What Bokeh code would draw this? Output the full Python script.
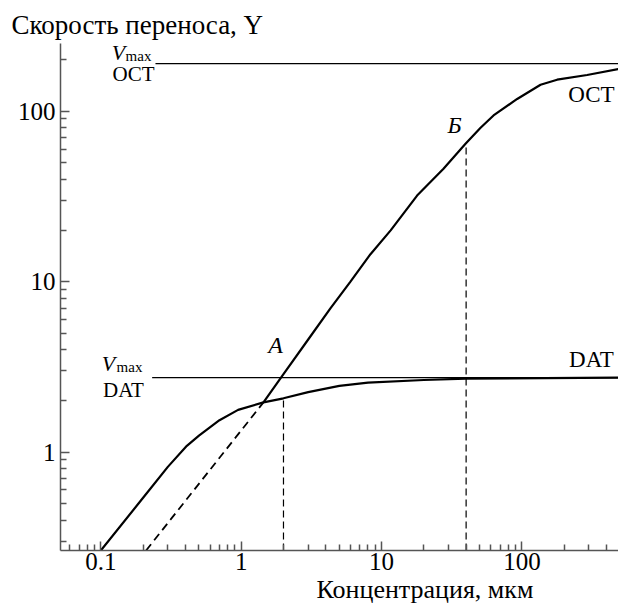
from bokeh.plotting import figure
from bokeh.models import Range1d, FixedTicker, Label, Title
from bokeh.embed import file_html
from bokeh.resources import INLINE

# ---- data ----
dat_x = [0.1, 0.2, 0.3, 0.41, 0.5, 0.7, 0.95, 1.44, 2.0, 3.0, 5.0, 8.0, 20, 40, 487]
dat_y = [0.265, 0.54, 0.82, 1.09, 1.25, 1.54, 1.77, 1.96, 2.07, 2.25, 2.45, 2.56, 2.65, 2.70, 2.74]

oct_x = [1.44, 2.0, 3.0, 4.33, 6.0, 8.33, 11.6, 17.9, 27.6, 39.6, 50.7, 62.7, 92.4, 135.6, 178, 291, 487]
oct_y = [1.96, 2.87, 4.58, 7.0, 10.0, 14.5, 20.0, 32.0, 46.0, 64.4, 80, 94.4, 118, 143, 153, 163, 177]

oct_ext_x = [0.21, 1.44]
oct_ext_y = [0.265, 1.96]

vmax_oct = 190
vmax_dat = 2.74
point_a_x = 2.0
point_a_y = 2.07
point_b_x = 40
point_b_y = 64.4

x_ticks = [0.1, 1, 10, 100]
x_tick_labels = ["0.1", "1", "10", "100"]
y_ticks = [1, 10, 100]
y_tick_labels = ["1", "10", "100"]

y_title = "Скорость переноса, Y"
x_title = "Концентрация, мкм"

X0, X1 = 0.0516, 487.0
Y0, Y1 = 0.265, 249.5

FONT = "Liberation Serif"
TFONT = "serif"
W, H = 618, 610
FL, FB, FT = 60, 550, 43   # frame left / bottom / top in canvas pixels

p = figure(width=W, height=H, x_axis_type="log", y_axis_type="log",
           x_range=Range1d(X0, X1), y_range=Range1d(Y0, Y1),
           output_backend="svg", toolbar_location=None,
           min_border_left=FL, min_border_right=0, min_border_top=FT, min_border_bottom=H - FB)
p.outline_line_color = None
p.grid.visible = False
p.background_fill_color = "white"
p.border_fill_color = "white"

# top-left axis title
p.title.text = y_title
p.title.align = "left"
p.title.offset = 11 - FL
p.title.standoff = 7
p.title.text_font = TFONT
p.title.text_font_size = "27px"
p.title.text_font_style = "normal"
p.title.text_color = "black"

def minors(lo, hi):
    out = []
    for e in range(lo, hi):
        for m in range(2, 10):
            out.append(m * 10.0 ** e)
    return out

p.xaxis.ticker = FixedTicker(ticks=x_ticks, minor_ticks=minors(-2, 3))
p.yaxis.ticker = FixedTicker(ticks=y_ticks, minor_ticks=minors(-1, 3))
p.xaxis.major_label_overrides = dict(zip(x_ticks, x_tick_labels))
p.yaxis.major_label_overrides = dict(zip(y_ticks, y_tick_labels))

for ax in (p.xaxis, p.yaxis):
    ax.axis_line_color = "#555555"
    ax.axis_line_width = 1.5
    ax.major_tick_line_color = "#555555"
    ax.minor_tick_line_color = "#555555"
    ax.major_tick_line_width = 1.5
    ax.minor_tick_line_width = 1.5
    ax.major_tick_in = 9
    ax.major_tick_out = 0
    ax.minor_tick_in = 6
    ax.minor_tick_out = 0
    ax.major_label_text_font = FONT
    ax.major_label_text_font_size = "25px"
    ax.major_label_text_color = "black"
p.xaxis.major_label_standoff = 2
p.yaxis.major_label_standoff = 5

# bottom axis title, placed under the tick labels
p.add_layout(Title(text=x_title, align="left", offset=316 - FL, standoff=0,
                   text_font=TFONT, text_font_size="26px", text_font_style="normal",
                   text_color="black"), "below")

# curves
p.line(dat_x, dat_y, line_color="black", line_width=2.2)
p.line(oct_x, oct_y, line_color="black", line_width=2.2)
p.line(oct_ext_x, oct_ext_y, line_color="black", line_width=1.8, line_dash="8 5")

# Vmax lines
p.line([0.245, 600], [vmax_oct, vmax_oct], line_color="black", line_width=1.2)
p.line([0.232, 600], [vmax_dat, vmax_dat], line_color="black", line_width=1.2)

# dashed drop lines
p.line([point_a_x, point_a_x], [Y0, point_a_y], line_color="black", line_width=1.2, line_dash="7 4")
p.line([point_b_x, point_b_x], [Y0, point_b_y], line_color="black", line_width=1.2, line_dash="7 4")

# helpers for label placement (canvas pixel -> data)
def px2x(px):
    return 10 ** ((px - 240.7) / 140.4)

def py2y(py):
    return 10 ** ((451.7 - py) / 170.5)

def lab(text, px, py, size, italic=False, align="center", baseline="middle"):
    p.add_layout(Label(x=px2x(px), y=py2y(py), text=text, text_font=FONT,
                       text_font_size=size, text_font_style="italic" if italic else "normal",
                       text_align=align, text_baseline=baseline, text_color="black"))

lab("V", 118, 52, "22px", italic=True)
lab("max", 138, 56, "15px")
lab("ОСТ", 133, 74, "21px")

lab("V", 108, 363, "22px", italic=True)
lab("max", 129, 367, "15px")
lab("DAT", 123, 390, "21px")

lab("A", 275, 345, "24px", italic=True)
lab("Б", 454, 125, "24px", italic=True)
lab("ОСТ", 591, 94, "23px")
lab("DAT", 591, 359, "23px")

open("out.html", "w").write(file_html(p, INLINE))
